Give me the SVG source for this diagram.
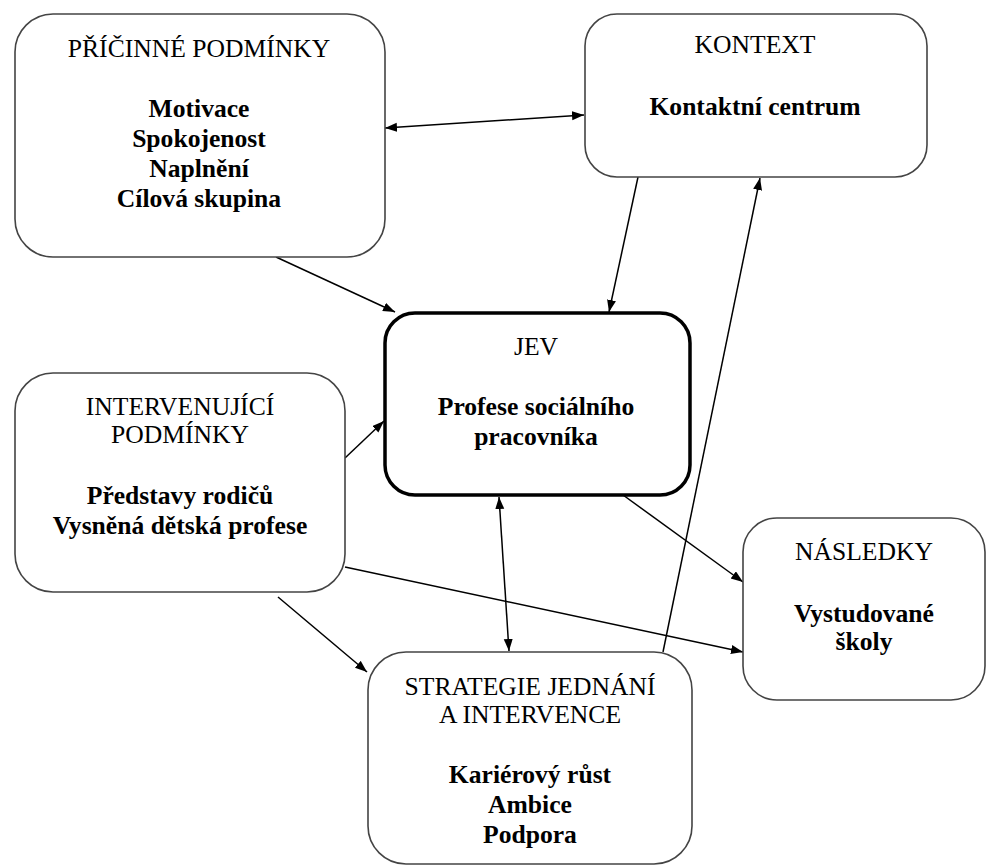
<svg xmlns="http://www.w3.org/2000/svg" width="989" height="866" viewBox="0 0 989 866">
<style>
.box{fill:#fff;stroke:#444;stroke-width:1.6}
.main{fill:#fff;stroke:#000;stroke-width:3.5}
.t{font-family:"Liberation Serif","Times New Roman",serif;font-size:25.6px;fill:#000;text-anchor:middle}
.b{font-weight:bold}
.c{stroke:#000;stroke-width:1.5;fill:none}
</style>
<defs>
<marker id="ah" markerUnits="userSpaceOnUse" markerWidth="13" markerHeight="10" refX="12" refY="4.5" orient="auto-start-reverse">
<path d="M0,0 L12,4.5 L0,9 z" fill="#000"/>
</marker>
</defs>
<rect width="989" height="866" fill="#fff"/>
<g id="connectors">
<line class="c" x1="385" y1="128" x2="584" y2="115" marker-start="url(#ah)" marker-end="url(#ah)"/>
<line class="c" x1="276" y1="257" x2="395" y2="312" marker-end="url(#ah)"/>
<line class="c" x1="638" y1="177" x2="609" y2="312" marker-end="url(#ah)"/>
<line class="c" x1="663" y1="652" x2="760" y2="178" marker-end="url(#ah)"/>
<line class="c" x1="345" y1="458" x2="384" y2="421" marker-end="url(#ah)"/>
<line class="c" x1="345" y1="567" x2="743" y2="652" marker-end="url(#ah)"/>
<line class="c" x1="623" y1="495" x2="743" y2="582" marker-end="url(#ah)"/>
<line class="c" x1="278" y1="597" x2="367" y2="672" marker-end="url(#ah)"/>
<line class="c" x1="499" y1="497" x2="509" y2="651" marker-start="url(#ah)" marker-end="url(#ah)"/>
</g>
<g id="pricinne">
<rect class="box" x="15" y="14" width="370" height="243" rx="38"/>
<text class="t" x="199" y="57">PŘÍČINNÉ PODMÍNKY</text>
<text class="t b" x="199" y="117">Motivace</text>
<text class="t b" x="199" y="147">Spokojenost</text>
<text class="t b" x="199" y="177">Naplnění</text>
<text class="t b" x="199" y="207">Cílová skupina</text>
</g>
<g id="kontext">
<rect class="box" x="585" y="14" width="342" height="163" rx="32"/>
<text class="t" x="755" y="53">KONTEXT</text>
<text class="t b" x="755" y="115">Kontaktní centrum</text>
</g>
<g id="jev">
<rect class="main" x="385" y="313" width="305" height="182" rx="30"/>
<text class="t" x="536" y="355">JEV</text>
<text class="t b" x="536" y="415">Profese sociálního</text>
<text class="t b" x="536" y="445">pracovníka</text>
</g>
<g id="intervenujici">
<rect class="box" x="15" y="373" width="330" height="219" rx="38"/>
<text class="t" x="180" y="415">INTERVENUJÍCÍ</text>
<text class="t" x="180" y="443">PODMÍNKY</text>
<text class="t b" x="180" y="504">Představy rodičů</text>
<text class="t b" x="180" y="534">Vysněná dětská profese</text>
</g>
<g id="nasledky">
<rect class="box" x="743" y="518" width="242" height="182" rx="34"/>
<text class="t" x="864" y="560">NÁSLEDKY</text>
<text class="t b" x="864" y="622">Vystudované</text>
<text class="t b" x="864" y="650">školy</text>
</g>
<g id="strategie">
<rect class="box" x="368" y="652" width="324" height="212" rx="38"/>
<text class="t" x="530" y="695">STRATEGIE JEDNÁNÍ</text>
<text class="t" x="530" y="723">A INTERVENCE</text>
<text class="t b" x="530" y="783">Kariérový růst</text>
<text class="t b" x="530" y="813">Ambice</text>
<text class="t b" x="530" y="843">Podpora</text>
</g>
</svg>
